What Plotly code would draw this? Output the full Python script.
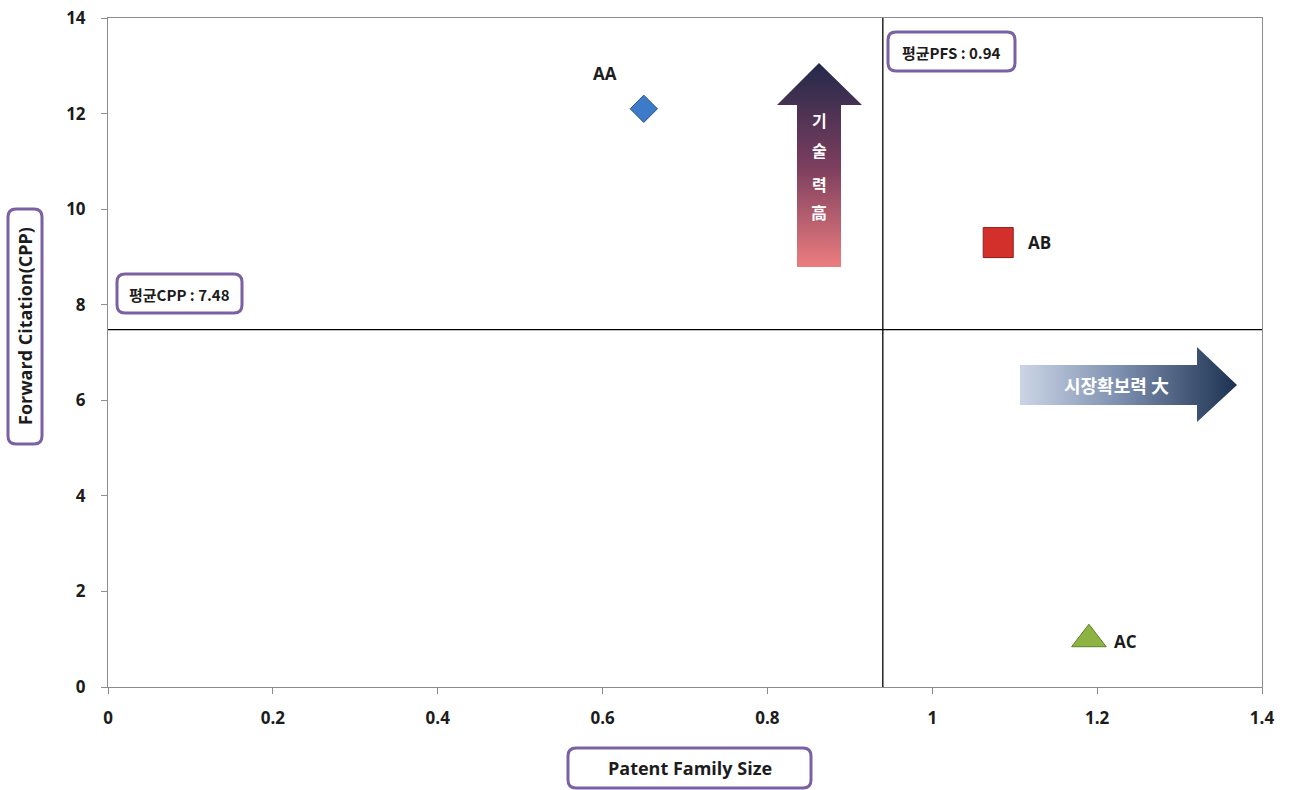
import plotly.graph_objects as go

# ---- data -------------------------------------------------------------
names = ["AA", "AB", "AC"]
pfs = [0.65, 1.08, 1.19]          # Patent Family Size
cpp = [12.1, 9.3, 1.0]            # Forward Citation (CPP)
symbols = ["diamond", "square", "triangle-up"]
fills = ["#3d7bc9", "#d3302c", "#8db443"]
edges = ["#24538f", "#8f1b19", "#5f7f2a"]
sizes = [21, 30, 30]

mean_pfs = 0.94
mean_cpp = 7.48

x_ticks = [0, 0.2, 0.4, 0.6, 0.8, 1, 1.2, 1.4]
x_tick_text = ["0", "0.2", "0.4", "0.6", "0.8", "1", "1.2", "1.4"]
y_ticks = [0, 2, 4, 6, 8, 10, 12, 14]

X_RANGE = [0, 1.4]
Y_RANGE = [0, 14]

# ---- page geometry (pixels) ------------------------------------------
W, H = 1290, 790
L, R, T, B = 108, 1262, 18, 687


def to_paper(px, py):
    return (px - L) / (R - L), (B - py) / (B - T)


def to_data(px, py):
    fx, fy = to_paper(px, py)
    return X_RANGE[0] + fx * (X_RANGE[1] - X_RANGE[0]), Y_RANGE[0] + fy * (Y_RANGE[1] - Y_RANGE[0])


def rounded_box(x0, y0, x1, y1, r):
    pts = [
        ("M", [(x0 + r, y0)]), ("L", [(x1 - r, y0)]), ("Q", [(x1, y0), (x1, y0 + r)]),
        ("L", [(x1, y1 - r)]), ("Q", [(x1, y1), (x1 - r, y1)]),
        ("L", [(x0 + r, y1)]), ("Q", [(x0, y1), (x0, y1 - r)]),
        ("L", [(x0, y0 + r)]), ("Q", [(x0, y0), (x0 + r, y0)]),
    ]
    out = []
    for cmd, ps in pts:
        coords = " ".join("%.5f,%.5f" % to_paper(px, py) for px, py in ps)
        out.append(cmd + " " + coords)
    return " ".join(out) + " Z"


PURPLE = "#7b61a3"
TXT = "#1c1c1c"
KR = "Noto Sans CJK KR"
LAT = "Open Sans"

fig = go.Figure()

# ---- gradient arrows --------------------------------------------------
up_px = [(797, 267), (797, 105), (777, 105), (819, 63), (862, 105), (841, 105), (841, 267), (797, 267)]
ux, uy = zip(*[to_data(*p) for p in up_px])
fig.add_trace(go.Scatter(
    x=ux, y=uy, mode="lines", fill="toself", line=dict(width=0),
    fillgradient=dict(type="vertical", colorscale=[[0, "#ec7d7f"], [0.5, "#7a3d5e"], [1, "#23294a"]]),
    hoverinfo="skip", showlegend=False))

right_px = [(1020, 365), (1197, 365), (1197, 347), (1237, 385), (1197, 422), (1197, 405), (1020, 405), (1020, 365)]
rx, ry = zip(*[to_data(*p) for p in right_px])
fig.add_trace(go.Scatter(
    x=rx, y=ry, mode="lines", fill="toself", line=dict(width=0),
    fillgradient=dict(type="horizontal", colorscale=[[0, "#cbd5e6"], [0.45, "#7f91b0"], [1, "#1d3150"]]),
    hoverinfo="skip", showlegend=False))

# ---- points ------------------------------------------------------------
for i in range(len(names)):
    fig.add_trace(go.Scatter(
        x=[pfs[i]], y=[cpp[i]], mode="markers", name=names[i],
        marker=dict(symbol=symbols[i], size=sizes[i], color=fills[i],
                    line=dict(color=edges[i], width=1)),
        showlegend=False))

# ---- mean lines ------------------------------------------------------
shapes = [
    dict(type="line", xref="x", yref="y", x0=mean_pfs, x1=mean_pfs, y0=Y_RANGE[0], y1=Y_RANGE[1],
         line=dict(color="#000000", width=1.3), layer="above"),
    dict(type="line", xref="x", yref="y", x0=X_RANGE[0], x1=X_RANGE[1], y0=mean_cpp, y1=mean_cpp,
         line=dict(color="#000000", width=1.3), layer="above"),
]

# ---- rounded label boxes ---------------------------------------------
boxes = [
    (117, 274, 242, 313),     # mean CPP
    (888, 32, 1015, 71),      # mean PFS
    (8, 209, 42, 444),        # y-axis title
    (568, 748, 811, 788),     # x-axis title
]
for x0, y0, x1, y1 in boxes:
    shapes.append(dict(type="path", xref="paper", yref="paper", path=rounded_box(x0, y0, x1, y1, 8),
                       line=dict(color=PURPLE, width=3), fillcolor="white", layer="above"))

annotations = []


def paper_text(px, py, text, size, color=TXT, family=LAT, angle=0, bold=True):
    ax, ay = to_paper(px, py)
    annotations.append(dict(
        xref="paper", yref="paper", x=ax, y=ay, text=text, showarrow=False,
        xanchor="center", yanchor="middle", textangle=angle,
        font=dict(size=size, color=color, family=family, weight="bold" if bold else "normal")))


# box texts
paper_text(179.5, 294, "평균CPP : 7.48", 15, family=KR)
paper_text(951.5, 52, "평균PFS : 0.94", 15, family=KR)
paper_text(25, 326, "Forward Citation(CPP)", 18, angle=-90, family=LAT)
paper_text(689.5, 768, "Patent Family Size", 18, family=LAT)

# arrow texts
for ch, cy in zip(["기", "술", "력", "高"], [120, 150, 184, 212]):
    paper_text(819, cy, ch, 16, color="white", family=KR, bold=True)
paper_text(1116, 385, "시장확보력 大", 18, color="white", family=KR, bold=True)

# point labels
offsets = [(-39, 35), (41, 0), (37, -2)]
for i in range(len(names)):
    annotations.append(dict(
        xref="x", yref="y", x=pfs[i], y=cpp[i], text=names[i], showarrow=False,
        xshift=offsets[i][0], yshift=offsets[i][1], xanchor="center", yanchor="middle",
        font=dict(size=17, color=TXT, family=LAT, weight="bold")))

axis_common = dict(
    showgrid=False, zeroline=False, showline=True, linecolor="#8c8c8c", linewidth=1,
    mirror=True, ticks="outside", ticklen=6, tickcolor="#8c8c8c", tickwidth=1,
    tickfont=dict(size=17, color=TXT, family=LAT, weight="bold"), automargin=False,
)

fig.update_layout(
    width=W, height=H,
    margin=dict(l=L, r=W - R, t=T, b=H - B, autoexpand=False),
    paper_bgcolor="white", plot_bgcolor="white",
    xaxis=dict(range=X_RANGE, tickvals=x_ticks, ticktext=x_tick_text, ticklabelstandoff=10, **axis_common),
    yaxis=dict(range=Y_RANGE, tickvals=y_ticks, ticklabelstandoff=12, **axis_common),
    shapes=shapes, annotations=annotations, showlegend=False,
)

fig.write_html("out.html")
